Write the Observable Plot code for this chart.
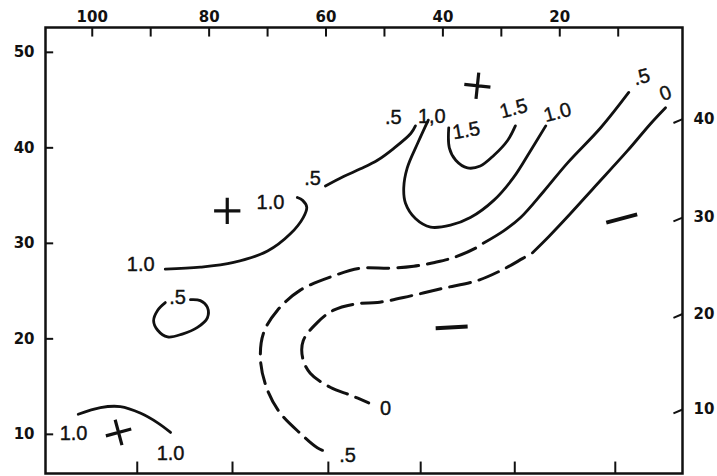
<!DOCTYPE html>
<html><head><meta charset="utf-8">
<script src="https://cdn.jsdelivr.net/npm/d3@7"></script>
<script src="https://cdn.jsdelivr.net/npm/@observablehq/plot@0.6"></script>
<style>html,body{margin:0;padding:0;background:#fff;} svg{display:block}</style>
</head><body><div id="chart"></div>
<script>
// Map extent (longitude runs right-to-left, latitude bottom-to-top)
const xDomain = [108, -1];
const yDomain = [5.9, 52.6];

// Axis ticks and labels
const topTicks = [100, 90, 80, 70, 60, 50, 40, 30, 20, 10];
const topLabels = [100, 80, 60, 40, 20];
const leftTicks = [10, 20, 30, 40, 50];
const rightTickPos = [12.6, 22.6, 32.7, 43.0];
const rightTickLabels = [10, 20, 30, 40];
const bottomTicks = [92.3, 76.0, 59.6, 43.8, 27.7, 10.5];

// Contour lines [longitude, latitude]
const c10West = [[87.5,27.3],[81.5,27.5],[75.8,28.0],[70.0,29.2],[66.1,31.0],[63.9,32.7],[63.3,33.8],[64.0,34.5],[64.9,34.8]];
const c05West = [[60.1,36.0],[57.0,37.0],[54.1,37.8],[51.2,38.7],[48.5,39.9],[45.5,41.5],[44.7,42.3]];
const c10Loop = [[42.5,42.9],[44.3,40.5],[46.1,37.9],[46.7,35.8],[46.4,34.2],[44.7,32.6],[42.1,31.7],[38.7,31.9],[35.3,32.7],[31.3,34.5],[27.9,36.9],[25.0,39.7],[22.4,42.3]];
const c15Loop = [[39.0,42.1],[38.9,40.0],[37.8,38.7],[35.8,37.9],[33.6,38.1],[31.3,39.2],[28.9,40.8],[27.6,42.3]];
const c05EastSolid = [[8.2,45.8],[13.0,42.1],[18.7,38.4],[22.8,35.4],[26.7,32.7],[29.6,31.3],[33.1,30.0]];
const c05EastDashed = [[33.1,30.0],[34.4,29.5],[38.2,28.5],[41.4,28.0],[45.0,27.6],[49.0,27.4],[54.1,27.4],[58.7,26.6],[64.4,25.1],[68.3,23.0],[70.7,20.6],[71.2,17.7],[70.0,14.6],[67.8,12.2],[64.4,10.1],[61.5,8.6],[59.2,8.0]];
const c00Solid = [[1.9,44.2],[4.5,42.5],[8.4,39.7],[14.2,35.8],[18.2,33.1],[21.9,30.7],[24.7,29.0]];
const c00Dashed = [[24.7,29.0],[26.4,28.4],[29.6,27.3],[34.1,26.1],[39.9,25.3],[45.5,24.5],[51.2,23.8],[54.4,23.7],[58.7,23.0],[61.5,21.7],[63.9,19.8],[64.0,18.0],[62.7,16.4],[59.2,14.9],[55.8,14.1],[52.7,13.3]];
const c05Small = [[87.5,23.8],[88.8,23.0],[89.5,21.9],[88.8,20.9],[87.1,20.2],[84.6,20.5],[82.0,21.2],[80.3,22.2],[80.3,23.3],[81.5,24.0],[83.2,24.1]];
const c10SW = [[102.4,12.1],[98.6,12.8],[95.2,12.9],[91.7,12.2],[88.8,11.2],[86.6,10.2]];

// Contour value labels
const labelText = ["1.0","1.0",".5",".5","1,0","1.5","1.5","1.0",".5","0",".5",".5","0","1.0","1.0"];
const labelLon  = [91.7, 69.5, 62.3, 48.5, 41.9, 36.0, 27.9, 20.4, 6.0, 1.9, 85.4, 56.3, 49.8, 103.2, 86.6];
const labelLat  = [27.8, 34.3, 36.8, 43.2, 43.3, 41.8, 44.1, 43.7, 47.4, 45.7, 24.3, 7.8, 12.7, 10.1, 8.0];
const labelTilt = [0, 0, 0, 0, 0, -10, -15, -15, -15, -20, 0, 0, 0, 0, 0];

// Highs (+) and lows (−)
const highLon = [76.9, 34.1, 95.5];
const highLat = [33.4, 46.5, 10.2];
const highTilt = [0, 6, -15];
const lowLon = [9.4, 38.5];
const lowLat = [32.6, 21.2];
const lowTilt = [-15, -3];

const toPts = a => a.map(([x, y]) => ({x, y}));
const solidLines = [c10West, c05West, c10Loop, c15Loop, c05EastSolid, c00Solid, c05Small, c10SW]
  .flatMap((a, i) => toPts(a).map(p => ({...p, id: i})));
const dashedLines = [c05EastDashed, c00Dashed]
  .flatMap((a, i) => toPts(a).map(p => ({...p, id: i})));
const labels = labelText.map((t, i) => ({t, x: labelLon[i], y: labelLat[i], r: labelTilt[i]}));
const highs = highLon.map((x, i) => ({x, y: highLat[i], r: highTilt[i]}));
const lows = lowLon.map((x, i) => ({x, y: lowLat[i], r: lowTilt[i]}));
const rightTicks = rightTickLabels.map((v, i) => ({v, y: rightTickPos[i]}));

const ink = "#111";
const dashSymbol = {draw(ctx, size) { const r = Math.sqrt(size / Math.PI); ctx.moveTo(-r, 0); ctx.lineTo(r, 0); }};
const axisFont = {fontFamily: "DejaVu Sans", fontSize: 15, fontWeight: "bold", fill: ink};
const lblFont = {fontFamily: "Liberation Sans", fontSize: 20, fill: ink, stroke: ink, strokeWidth: 0.4};

const chart = Plot.plot({
  width: 717, height: 476,
  marginLeft: 45, marginRight: 35, marginTop: 27, marginBottom: 3,
  x: {domain: xDomain, axis: null},
  y: {domain: yDomain, axis: null},
  style: {background: "#fff", overflow: "visible"},
  marks: [
    Plot.frame({stroke: ink, strokeWidth: 2.5}),
    // top ticks and labels
    Plot.ruleX(topTicks, {x: d => d, y1: yDomain[1], y2: yDomain[1] - 1.0, stroke: ink, strokeWidth: 2}),
    Plot.text(topLabels, {x: d => d, y: yDomain[1], text: d => String(d), dy: -10, ...axisFont}),
    // bottom ticks
    Plot.ruleX(bottomTicks, {x: d => d, y1: yDomain[0], y2: yDomain[0] + 1.2, stroke: ink, strokeWidth: 2}),
    // left ticks and labels
    Plot.ruleY(leftTicks, {y: d => d, x1: xDomain[0], x2: xDomain[0] - 1.4, stroke: ink, strokeWidth: 2}),
    Plot.text(leftTicks, {x: xDomain[0], y: d => d, text: d => String(d), textAnchor: "end", dx: -11, ...axisFont}),
    // right ticks and labels
    Plot.link(rightTicks, {x1: xDomain[1], y1: d => d.y, x2: xDomain[1] + 1.55, y2: d => d.y - 0.4, stroke: ink, strokeWidth: 2}),
    Plot.text(rightTicks, {x: xDomain[1], y: d => d.y, text: d => String(d.v), textAnchor: "start", dx: 11, ...axisFont}),
    // contours
    Plot.line(solidLines, {x: "x", y: "y", z: "id", curve: "catmull-rom", stroke: ink, strokeWidth: 2.8, strokeLinecap: "round"}),
    Plot.line(dashedLines, {x: "x", y: "y", z: "id", curve: "catmull-rom", stroke: ink, strokeWidth: 3, strokeDasharray: "21,9", strokeDashoffset: 21}),
    // labels
    Plot.text(labels, {x: "x", y: "y", text: "t", rotate: "r", ...lblFont}),
    // highs and lows
    Plot.dot(highs, {x: "x", y: "y", rotate: "r", symbol: "plus", r: 8.5, stroke: ink, strokeWidth: 3.2}),
    Plot.dot(lows, {x: "x", y: "y", rotate: "r", symbol: dashSymbol, r: 16, stroke: ink, strokeWidth: 4})
  ]
});
document.getElementById("chart").appendChild(chart);
</script>
</body></html>
